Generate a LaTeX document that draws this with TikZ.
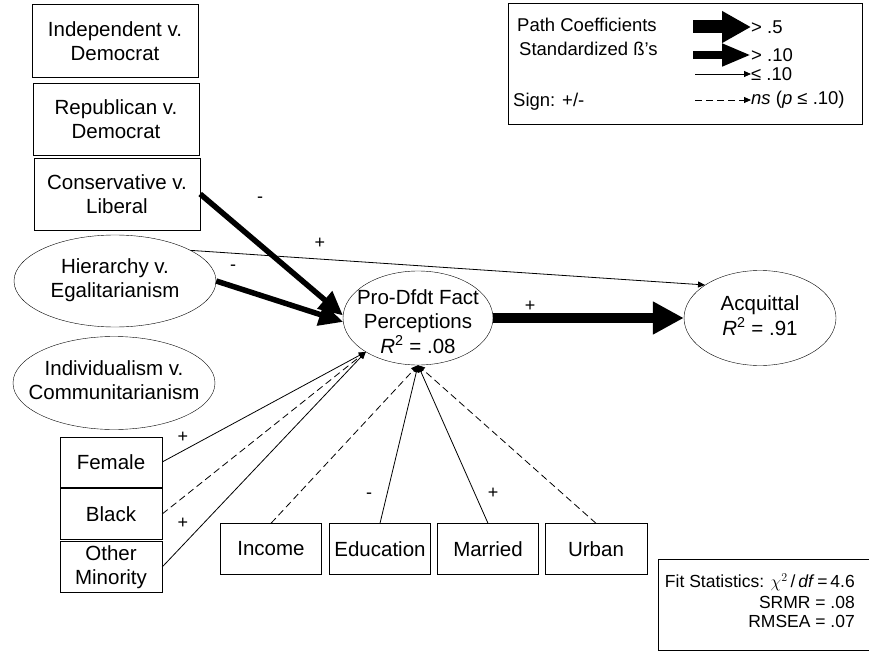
\documentclass[tikz,border=0pt]{standalone}
\usepackage{fontspec}
\setmainfont{Liberation Sans}
\usetikzlibrary{arrows.meta,shapes.geometric}
\newcommand{\intext}[2][0pt]{\makebox[0pt]{\smash{\raisebox{\dimexpr-.25em-#1\relax}{\begin{tabular}{@{}c@{}}#2\end{tabular}}}}}
\tikzset{
    obs/.style={draw,rectangle,inner sep=0pt,align=center},
    lat/.style={draw,ellipse,inner sep=0pt},
    pbig/.style={line width=10pt,-{Triangle[length=31pt,width=31pt]}},
    pmed/.style={line width=5.5pt,-{Triangle[length=24pt,width=22pt]}},
    pthin/.style={line width=0.8pt,-{Triangle[length=7pt,width=6pt]}},
    pns/.style={pthin,dash pattern=on 7pt off 4pt},
    sgn/.style={inner sep=0pt,font=\fontsize{18}{18}\selectfont},
    leg/.style={inner sep=0pt,font=\fontsize{18.5}{20}\selectfont},
    fit/.style={inner sep=0pt,anchor=east,font=\fontsize{17.5}{19}\selectfont}
}
\begin{document}
\begin{tikzpicture}[x=1pt,y=-1pt,font=\fontsize{20.5}{24}\selectfont]
        \useasboundingbox (0,0) rectangle (869,652);
        %% party and ideology
        \node[obs,minimum width=166,minimum height=73] (ind) at (115,41) {Independent v.\\Democrat};
        \node[obs,minimum width=166,minimum height=72] (rep) at (116,119) {Republican v.\\Democrat};
        \node[obs,minimum width=166,minimum height=72] (cons) at (117,194) {Conservative v.\\Liberal};
        %% cultural worldviews
        \node[lat,minimum width=202,minimum height=92] (hier) at (115,281) {\intext{Hierarchy v.\\Egalitarianism}};
        \node[lat,minimum width=202,minimum height=93] (indiv) at (114,383) {\intext{Individualism v.\\Communitarianism}};
        %% demographics
        \node[obs,minimum width=102,minimum height=50] (fem) at (111,462) {Female};
        \node[obs,minimum width=102,minimum height=51] (blk) at (111,514) {Black};
        \node[obs,minimum width=102,minimum height=51] (oth) at (111,567) {Other\\Minority};
        \node[obs,minimum width=101,minimum height=51] (inc) at (271,549) {Income};
        \node[obs,minimum width=101,minimum height=51] (edu) at (380,549) {Education};
        \node[obs,minimum width=101,minimum height=51] (mar) at (488,549) {Married};
        \node[obs,minimum width=102,minimum height=51] (urb) at (596,549) {Urban};
        %% mediator and outcome
        \node[lat,minimum width=150,minimum height=94] (pro) at (418,318) {\intext[6pt]{Pro-Dfdt Fact\\Perceptions\\\textit{R}\textsuperscript{2} = .08}};
        \node[lat,minimum width=152,minimum height=95] (acq) at (760,318) {\intext{Acquittal\\\textit{R}\textsuperscript{2} = .91}};
        %% paths
        \draw[pmed] (cons.east) -- (pro.178);
        \draw[pmed] (hier.east) -- (pro.183);
        \draw[pthin] (hier.22) -- (acq.149);
        \draw[pbig] (pro.east) -- (acq.west);
        \draw[pthin] (fem.east) -- (pro.213);
        \draw[pns] (blk.east) -- (pro.213);
        \draw[pthin] (oth.east) -- (pro.213);
        \foreach \v/\s in {inc/pns,edu/pthin,mar/pthin,urb/pns}
            \draw[\s] (\v.north) -- (pro.south);
        %% signs
        \node[sgn] (s1) at (260,200) {-};
        \node[sgn] (s2) at (320,243) {+};
        \node[sgn] (s3) at (233,268) {-};
        \node[sgn] (s4) at (530,306) {+};
        \node[sgn] (s5) at (183,437) {+};
        \node[sgn] (s6) at (183,523) {+};
        \node[sgn] (s7) at (369,496) {-};
        \node[sgn] (s8) at (493,493) {+};
        %% legend
        \draw (508,3) rectangle (862,124);
        \node[leg,anchor=west] (lt1) at (517,25) {Path Coefficients};
        \node[leg,anchor=west] (lt2) at (519,49) {Standardized ß’s};
        \node[leg,anchor=west] (lt3) at (513,102) {Sign: +/-};
        \node[leg,anchor=west] (lk1) at (751,27) {> .5};
        \node[leg,anchor=west] (lk2) at (751,55) {> .10};
        \node[leg,anchor=west] (lk3) at (751,74) {≤ .10};
        \node[leg,anchor=west] (lk4) at (751,100) {\textit{ns} (\textit{p} ≤ .10)};
        \coordinate (la1) at (693,27);
        \coordinate (la2) at (693,55);
        \coordinate (la3) at (695,74);
        \coordinate (la4) at (695,100);
        \draw[line width=13pt,-{Triangle[length=29pt,width=30pt]}] (la1) -- (lk1.west);
        \draw[line width=8pt,-{Triangle[length=29pt,width=21pt]}] (la2) -- (lk2.west);
        \draw[pthin] (la3) -- (lk3.west);
        \draw[pns] (la4) -- (lk4.west);
        %% fit
        \draw (869,559) -- (658,559) -- (658,650) -- (869,650);
        \node[fit] (f1) at (855,582) {Fit Statistics: $\chi^{2}$\,/\,\textit{df}\,=\,4.6};
        \node[fit] (f2) at (855,602) {SRMR = .08};
        \node[fit] (f3) at (855,621) {RMSEA = .07};
\end{tikzpicture}
\end{document}
